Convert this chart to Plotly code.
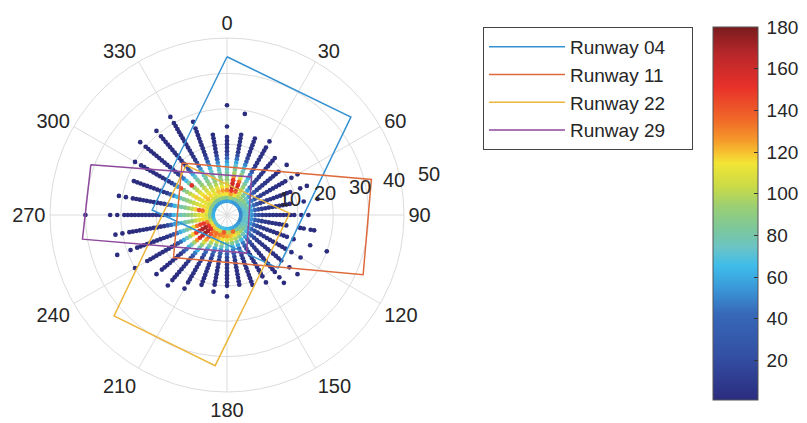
import math
import plotly.graph_objects as go

# ---------------------------------------------------------------------------
# Wind observations: direction (deg, every 10 deg) x speed (knots, from 4 kt)
# Each list gives the observation count at speeds 4, 5, 6, ... kt; 0 = none.
# ---------------------------------------------------------------------------
first_speed = 4
wind_dirs = [0, 10, 20, 30, 40, 50, 60, 70, 80, 90, 100, 110, 120, 130, 140, 150, 160, 170,
             180, 190, 200, 210, 220, 230, 240, 250, 260, 270, 280, 290, 300, 310, 320, 330, 340, 350]

freq_000 = [55, 85, 115, 130, 112, 100, 92, 86, 80, 74, 66, 56, 40, 20, 9, 6, 5, 4, 3, 0, 0, 2, 0, 0, 0, 0, 0, 1]
freq_010 = [60, 95, 125, 150, 165, 160, 150, 125, 96, 82, 72, 60, 44, 22, 10, 7, 6, 5, 4, 3, 0, 0, 0, 0, 0, 1]
freq_020 = [55, 85, 115, 140, 160, 155, 135, 110, 90, 78, 66, 50, 30, 14, 7, 6, 5, 4, 3, 2]
freq_030 = [55, 80, 100, 105, 100, 92, 82, 72, 62, 46, 28, 14, 8, 6, 5, 4, 3, 3, 2, 0, 1]
freq_040 = [55, 82, 94, 86, 72, 58, 42, 26, 15, 10, 8, 7, 6, 5, 4, 3, 2, 2]
freq_050 = [55, 78, 88, 74, 56, 38, 24, 14, 10, 8, 7, 6, 5, 4, 3, 2, 0, 0, 1]
freq_060 = [52, 74, 82, 66, 48, 30, 18, 12, 9, 8, 6, 5, 4, 3, 3, 2, 0, 2, 0, 1]
freq_070 = [50, 72, 78, 60, 40, 24, 14, 10, 8, 6, 5, 4, 3, 3, 2, 2, 0, 0, 1, 0, 1]
freq_080 = [48, 70, 75, 56, 36, 20, 12, 9, 7, 5, 4, 3, 3, 2, 2, 0, 0, 0, 1, 0, 0, 0, 1]
freq_090 = [50, 72, 72, 52, 34, 19, 11, 8, 6, 5, 4, 3, 2, 2, 2, 1, 0, 1, 0, 1]
freq_100 = [52, 74, 74, 54, 36, 21, 12, 9, 7, 5, 4, 3, 3, 2, 0, 0, 0, 1, 1, 0, 1, 1]
freq_110 = [50, 72, 72, 52, 34, 20, 12, 9, 7, 5, 4, 3, 3, 2, 2, 0, 1, 0, 0, 0, 0, 1, 0, 0, 0, 0, 1]
freq_120 = [52, 74, 76, 56, 38, 22, 13, 10, 7, 5, 4, 3, 3, 2, 2, 1, 0, 1, 0, 0, 1]
freq_130 = [55, 78, 84, 66, 46, 28, 16, 11, 8, 6, 5, 4, 3, 3, 2, 2, 1, 0, 0, 1, 0, 0, 1]
freq_140 = [56, 82, 94, 76, 56, 36, 20, 12, 9, 7, 5, 4, 3, 3, 2, 2, 1, 1, 0, 1, 0, 1]
freq_150 = [58, 86, 104, 88, 66, 46, 28, 15, 10, 7, 5, 4, 3, 3, 2, 2, 1, 0, 1]
freq_160 = [60, 135, 115, 98, 78, 60, 40, 22, 12, 8, 6, 5, 4, 3, 2, 2, 1, 1]
freq_170 = [62, 96, 120, 104, 86, 68, 48, 28, 14, 9, 7, 5, 4, 3, 2, 2, 1]
freq_180 = [65, 100, 124, 112, 92, 72, 52, 32, 17, 10, 7, 5, 4, 3, 3, 2, 1, 0, 0, 1]
freq_190 = [65, 140, 126, 114, 96, 76, 54, 34, 18, 10, 7, 5, 4, 3, 3, 2, 2, 0, 1]
freq_200 = [68, 104, 130, 120, 104, 82, 60, 40, 22, 12, 8, 6, 5, 4, 3, 2, 2, 1]
freq_210 = [68, 108, 134, 130, 116, 98, 78, 58, 38, 22, 12, 8, 6, 5, 4, 3, 2, 2, 1, 0, 1]
freq_220 = [68, 108, 132, 142, 138, 124, 106, 90, 76, 62, 46, 28, 13, 7, 5, 4, 3, 2, 2, 1, 1, 0, 1]
freq_230 = [72, 118, 155, 168, 172, 165, 154, 126, 96, 76, 62, 42, 20, 9, 7, 5, 4, 3, 2, 2, 1, 0, 1]
freq_240 = [72, 112, 150, 170, 168, 162, 148, 118, 92, 74, 60, 42, 20, 9, 6, 5, 4, 3, 3, 2, 2, 1, 1, 0, 0, 0, 1]
freq_250 = [68, 102, 130, 150, 146, 132, 112, 94, 80, 70, 60, 44, 24, 10, 6, 5, 4, 3, 3, 2, 2, 1, 1, 1, 0, 1, 0, 0,
            0, 1]
freq_260 = [62, 92, 110, 116, 110, 102, 94, 86, 78, 72, 66, 56, 38, 18, 8, 5, 4, 4, 3, 3, 2, 2, 1, 1, 1, 0, 1, 0, 1]
freq_270 = [62, 88, 106, 114, 108, 100, 94, 88, 82, 76, 70, 62, 46, 24, 10, 5, 4, 4, 3, 3, 2, 2, 1, 1, 1, 1, 0, 1, 0,
            1, 0, 0, 0, 0, 0, 0, 1]
freq_280 = [62, 92, 115, 135, 140, 118, 102, 94, 86, 80, 72, 62, 46, 24, 10, 5, 4, 3, 3, 2, 2, 1, 1, 1, 0, 1, 0, 1]
freq_290 = [58, 88, 110, 116, 110, 106, 102, 96, 90, 84, 76, 66, 50, 26, 11, 5, 4, 3, 3, 2, 2, 1, 1, 1, 1]
freq_300 = [58, 88, 106, 112, 110, 110, 118, 108, 100, 92, 84, 145, 56, 30, 12, 7, 5, 4, 3, 3, 2, 2, 1, 1, 1, 0, 1]
freq_310 = [58, 88, 110, 120, 118, 114, 108, 100, 92, 155, 80, 66, 46, 22, 10, 7, 6, 5, 4, 3, 3, 2, 2, 1, 1, 1, 1, 0,
            1]
freq_320 = [58, 84, 106, 116, 112, 106, 100, 92, 86, 80, 72, 60, 42, 20, 9, 6, 5, 4, 3, 3, 2, 2, 1, 1, 1, 1, 0, 1]
freq_330 = [58, 84, 106, 112, 108, 100, 92, 86, 80, 74, 66, 52, 34, 16, 8, 5, 4, 4, 3, 3, 2, 2, 1, 1, 1, 1, 1, 0, 1]
freq_340 = [58, 88, 110, 120, 112, 100, 92, 86, 80, 74, 66, 52, 34, 15, 7, 5, 4, 3, 3, 2, 2, 1, 1, 0, 1]
freq_350 = [58, 88, 115, 125, 114, 102, 92, 84, 78, 72, 64, 50, 32, 14, 7, 5, 4, 3, 2, 1]

freq_rows = [freq_000, freq_010, freq_020, freq_030, freq_040, freq_050, freq_060, freq_070,
             freq_080, freq_090, freq_100, freq_110, freq_120, freq_130, freq_140, freq_150,
             freq_160, freq_170, freq_180, freq_190, freq_200, freq_210, freq_220, freq_230,
             freq_240, freq_250, freq_260, freq_270, freq_280, freq_290, freq_300, freq_310,
             freq_320, freq_330, freq_340, freq_350]

# Runway crosswind envelopes: corner (bearing deg, radius kt), traced in order
runway_names = ["Runway 04", "Runway 11", "Runway 22", "Runway 29"]
runway_theta = [
    [0.0, 51.7, 136.1, 273.8],
    [319.1, 76.2, 113.7, 231.5],
    [320.6, 88.5, 184.5, 228.2],
    [290.3, 32.8, 152.8, 260.5],
]
runway_r = [
    [44.7, 44.6, 20.8, 21.2],
    [19.4, 42.0, 42.0, 19.3],
    [18.2, 17.7, 42.7, 42.8],
    [41.0, 12.8, 12.1, 41.4],
]
runway_colors = ["#3491d2", "#de6a3c", "#ecb63c", "#8e4a9c"]

radial_ticks = [10, 20, 30, 40, 50]
angular_ticks = [0, 30, 60, 90, 120, 150, 180, 210, 240, 270, 300, 330]
colorbar_ticks = [20, 40, 60, 80, 100, 120, 140, 160, 180]

# MATLAB-like jet palette
jet_scale = [
    [0.00, "#2b2c7e"], [0.12, "#3350a4"], [0.23, "#3768b8"], [0.30, "#3a98d8"],
    [0.36, "#3fbdea"], [0.41, "#6cc4c4"], [0.46, "#7cc79a"], [0.52, "#9ccf72"],
    [0.57, "#c8da48"], [0.635, "#f2e535"], [0.66, "#f7c531"], [0.70, "#f5952a"],
    [0.75, "#f06a28"], [0.84, "#e8302a"], [0.927, "#b8272a"], [1.00, "#7a1b1e"],
]

FONT = "Liberation Sans, Arial, Helvetica, sans-serif"
TXT = "#262626"
GRID = "#dcdcdc"

W, H = 807, 423
# polar plotting area (pixels): centre and outer radius
CX, CY, RAD = 227, 215, 177
R_MAX = 50

# flatten observations
pts = []
for d, row in zip(wind_dirs, freq_rows):
    for i, c in enumerate(row):
        if c > 0:
            pts.append((c, d, first_speed + i))
pts.sort()
obs_count = [p[0] for p in pts]
obs_dir = [p[1] for p in pts]
obs_speed = [p[2] for p in pts]

fig = go.Figure()

fig.add_trace(go.Scatterpolar(
    r=obs_speed, theta=obs_dir, mode="markers", showlegend=False,
    marker=dict(
        size=4.7, color=obs_count, colorscale=jet_scale, cmin=1, cmax=180,
        line=dict(width=0),
        colorbar=dict(
            x=713 / W, xanchor="left", xpad=0, ypad=0,
            y=0.4953, yanchor="middle", len=373 / H, lenmode="fraction",
            thickness=45, thicknessmode="pixels",
            tickvals=colorbar_ticks, ticktext=["\u2009" + str(t) for t in colorbar_ticks],
            ticks="inside", ticklen=4, tickcolor="#333",
            tickfont=dict(family=FONT, size=19, color=TXT),
            outlinewidth=1, outlinecolor="#555",
        ),
    ),
))

# legend padding on the right of each entry (non-breaking spaces)
pad = "\u00a0" * 4
for name, th, rr, col in zip(runway_names, runway_theta, runway_r, runway_colors):
    fig.add_trace(go.Scatterpolar(
        r=rr + rr[:1], theta=th + th[:1], mode="lines", name=name + pad,
        line=dict(color=col, width=1.5),
    ))

# radial tick labels, set off to the upper right of the 80-degree bearing
annotations = []
a = math.radians(80)
for v in radial_ticks:
    px = CX + v / R_MAX * RAD * math.sin(a) + 28
    py = CY - v / R_MAX * RAD * math.cos(a) - 10
    annotations.append(dict(
        x=px / W, y=1 - py / H, xref="paper", yref="paper", text=str(v),
        showarrow=False, xanchor="center", yanchor="middle",
        font=dict(family=FONT, size=20, color=TXT),
    ))

fig.update_layout(
    width=W, height=H,
    margin=dict(l=0, r=0, t=0, b=0),
    paper_bgcolor="white",
    font=dict(family=FONT, color=TXT, size=19),
    annotations=annotations,
    polar=dict(
        domain=dict(x=[(CX - RAD) / W, (CX + RAD) / W], y=[1 - (CY + RAD) / H, 1 - (CY - RAD) / H]),
        bgcolor="white",
        angularaxis=dict(
            direction="clockwise", rotation=90,
            tickvals=angular_ticks, ticktext=[str(t) for t in angular_ticks],
            showgrid=True, gridcolor=GRID, gridwidth=1,
            showline=True, linecolor=GRID, linewidth=1,
            ticks="",
            tickfont=dict(family=FONT, size=20, color=TXT),
        ),
        radialaxis=dict(
            range=[0, R_MAX], tickvals=radial_ticks, showticklabels=False,
            showgrid=True, gridcolor=GRID, gridwidth=1,
            showline=False, ticks="",
        ),
    ),
    legend=dict(
        x=483 / W, y=1 - 27 / H, xanchor="left", yanchor="top",
        bgcolor="white", bordercolor="#444", borderwidth=1,
        font=dict(family=FONT, size=19, color=TXT),
        itemwidth=76, tracegroupgap=0,
    ),
)

fig.write_html("out.html")
